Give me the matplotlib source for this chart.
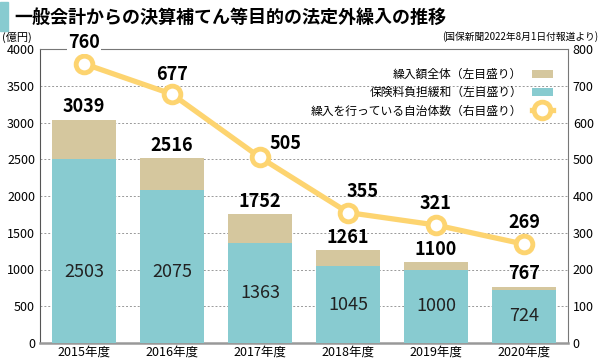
import numpy as np
import matplotlib.pyplot as plt
from matplotlib.patches import Rectangle

plt.rcParams['font.family'] = ['Noto Sans CJK JP', 'DejaVu Sans']

years = ['2015年度', '2016年度', '2017年度', '2018年度', '2019年度', '2020年度']
total = [3039, 2516, 1752, 1261, 1100, 767]
hoken = [2503, 2075, 1363, 1045, 1000, 724]
towns = [760, 677, 505, 355, 321, 269]

c_tan = '#d5c79e'
c_teal = '#88cbd0'
c_line = '#fdd470'

fig = plt.figure(figsize=(6, 3.59), dpi=100)
ax = fig.add_axes([40/600, 1-343/359, 528/600, 294/359])
x = np.arange(len(years))
w = 0.73

ax.bar(x, total, w, color=c_tan, zorder=2, label='繰入額全体（左目盛り）')
ax.bar(x, hoken, w, color=c_teal, zorder=3, label='保険料負担緩和（左目盛り）')
ax.set_xlim(-0.5, 5.5)
ax.set_ylim(0, 4000)
ax.set_yticks(range(0, 4001, 500))
ax.set_xticks(x)
ax.set_xticklabels(years, fontsize=9)
ax.tick_params(axis='both', length=0, labelsize=9)
ax.tick_params(axis='x', pad=2)
ax.grid(axis='y', linestyle=(0, (2, 2)), color='#999999', linewidth=0.7, zorder=0)
for s in ['top', 'right']:
    ax.spines[s].set_color('#777777')
    ax.spines[s].set_linewidth(0.8)
ax.spines['left'].set_color('#555555')
ax.spines['bottom'].set_color('#999999')
ax.spines['bottom'].set_linewidth(1.8)

for i in range(len(years)):
    ax.annotate(str(total[i]), (x[i], total[i]), xytext=(0, 13), textcoords='offset pixels',
                ha='center', va='center', fontsize=13, fontweight='bold', zorder=6)
    ax.text(x[i], min(hoken[i] / 2, 960), str(hoken[i]), ha='center', va='center',
            fontsize=13, color='#222222', zorder=6)

ax2 = ax.twinx()
ax2.set_ylim(0, 800)
ax2.set_yticks(range(0, 801, 100))
ax2.tick_params(axis='y', length=0, labelsize=9)
for s in ax2.spines.values():
    s.set_visible(False)
ax2.plot(x, towns, color=c_line, linewidth=3.8, marker='o', markersize=12,
         markerfacecolor='white', markeredgecolor=c_line, markeredgewidth=3.5,
         zorder=5, label='繰入を行っている自治体数（右目盛り）')
offs = [(0, 21), (0, 20), (25, 14), (15, 21), (0, 22), (0, 22)]
for i in range(len(years)):
    t = ax2.annotate(str(towns[i]), (x[i], towns[i]), xytext=offs[i], textcoords='offset pixels',
                     ha='center', va='center', fontsize=13, fontweight='bold', zorder=7,
                     annotation_clip=False)
    if i == 0:
        t.set_bbox(dict(facecolor='white', edgecolor='none', pad=1))

h1, l1 = ax.get_legend_handles_labels()
h2, l2 = ax2.get_legend_handles_labels()
leg = ax2.legend(h1 + h2, l1 + l2, loc='upper right', bbox_to_anchor=(0.985, 0.96),
                 frameon=False, markerfirst=False, fontsize=8.5, handlelength=1.8,
                 labelspacing=0.45, borderaxespad=0.2)

fig.patches.append(Rectangle((0, 1-31/359), 8/600, 29/359, transform=fig.transFigure,
                             color=c_teal))
fig.text(14/600, 1-17/359, '一般会計からの決算補てん等目的の法定外繰入の推移', fontsize=13,
         fontweight='bold', va='center', ha='left')
fig.text(2/600, 1-37/359, '(億円)', fontsize=8, va='center', ha='left')
fig.text(598/600, 1-37/359, '(国保新聞2022年8月1日付報道より)', fontsize=7, va='center', ha='right')

fig.savefig('out.png', dpi=100)
